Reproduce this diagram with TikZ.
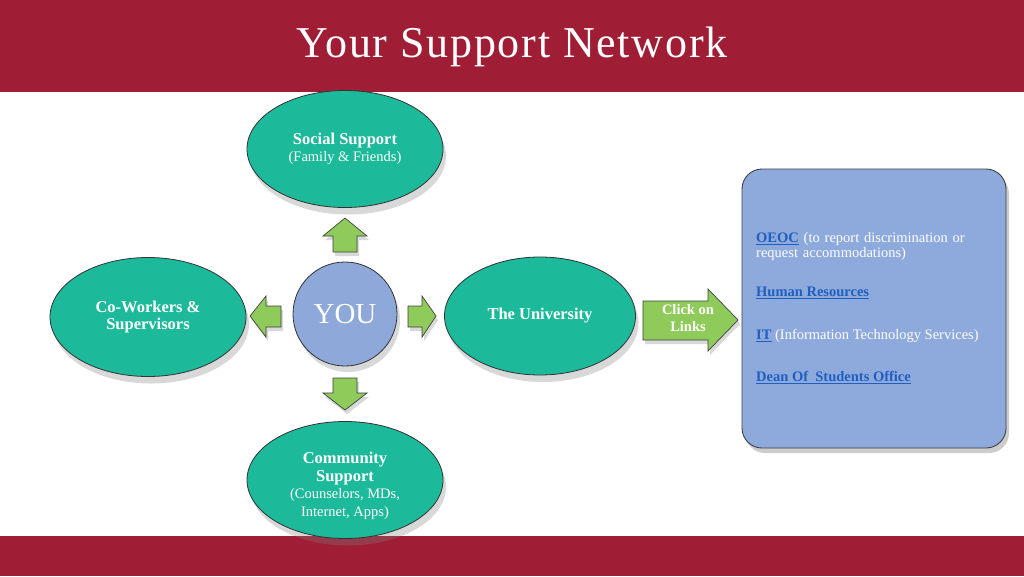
\documentclass[tikz,border=0pt]{standalone}
\usepackage{fontspec}
\setmainfont{Liberation Serif}
\usetikzlibrary{shapes.geometric,shadows}
\definecolor{crimson}{HTML}{A01E35}
\definecolor{teal1}{HTML}{1CB99A}
\definecolor{youblue}{HTML}{8EA8DA}
\definecolor{boxblue}{HTML}{8EA9DB}
\definecolor{agreen}{HTML}{8FCB5B}
\definecolor{linkblue}{HTML}{1F5FC0}
\tikzset{
  oval/.style={ellipse, draw=black!80, line width=0.8pt, fill=teal1, text=white,
    align=center, inner sep=0pt, font=\fontsize{16.5}{17.5}\selectfont\bfseries,
    drop shadow={shadow xshift=3pt, shadow yshift=-7pt, opacity=0.3}},
  garrow/.style={draw=black!75, line width=0.7pt, fill=agreen, line join=miter,
    drop shadow={shadow xshift=2pt, shadow yshift=-4pt, opacity=0.3}},
}
\newcommand{\lk}[1]{\textcolor{linkblue}{\bfseries\underline{#1}}}
\newcommand{\smr}{\fontsize{14.5}{15}\selectfont\mdseries}
\begin{document}
\begin{tikzpicture}[x=1pt,y=-1pt]
\useasboundingbox (0,0) rectangle (1024,576);
\fill[white] (0,0) rectangle (1024,576);
% bands
\fill[crimson] (0,0) rectangle (1024,92);
\fill[crimson] (0,536) rectangle (1024,576);
\node[text=white, font=\fontsize{44}{48}\selectfont\addfontfeature{LetterSpace=4}] (title) at (512,47) {Your Support Network};

% ellipses
\node[oval, minimum width=196pt, minimum height=117pt] (social) at (345,149)
  {Social Support\\ \smr (Family \& Friends)};
\node[oval, minimum width=196pt, minimum height=119pt] (cow) at (148,317)
  {Co-Workers \&\\ Supervisors};
\node[oval, minimum width=191pt, minimum height=118pt] (univ) at (540,316)
  {The University};
\node[oval, minimum width=196pt, minimum height=117pt] (comm) at (345,480)
  {\rule{0pt}{23pt}Community\\ Support\\ \smr (Counselors, MDs,\\ \smr Internet, Apps)};

% YOU
\node[circle, draw=black!80, line width=0.8pt, fill=youblue, minimum size=104pt, inner sep=0pt,
  text=white, font=\fontsize{29}{31}\selectfont,
  drop shadow={shadow xshift=3pt, shadow yshift=-6pt, opacity=0.3}] (you) at (345,314) {YOU};

% green arrows
\path[garrow] (345,218) -- (367,236) -- (357,236) -- (357,252) -- (333,252) -- (333,236) -- (323,236) -- cycle;
\path[garrow] (345,410) -- (367,393) -- (357,393) -- (357,378) -- (333,378) -- (333,393) -- (323,393) -- cycle;
\path[garrow] (250,316) -- (266,296) -- (266,306) -- (281,306) -- (281,327) -- (266,327) -- (266,337) -- cycle;
\path[garrow] (436,316) -- (422,296) -- (422,306) -- (408,306) -- (408,327) -- (422,327) -- (422,337) -- cycle;
\path[garrow] (738,320) -- (708,289) -- (708,301) -- (643,301) -- (643,340) -- (708,340) -- (708,351) -- cycle;
\node[text=white, font=\fontsize{14.5}{16.5}\selectfont\bfseries, align=center] (click) at (688,318) {Click on\\Links};

% blue box
\node[draw=black!75, line width=0.9pt, fill=boxblue, rounded corners=20pt,
  minimum width=264pt, minimum height=279pt, inner sep=0pt,
  drop shadow={shadow xshift=3pt, shadow yshift=-5pt, opacity=0.4}] (box) at (874,308.5) {};

\node[anchor=north west, text=white, font=\fontsize{14.5}{15.5}\selectfont, align=left,
  text width=250pt, inner sep=0pt] (oeoc) at (756,232)
  {\lk{OEOC} (to report discrimination or\\ request accommodations)};
\node[anchor=north west, inner sep=0pt, font=\fontsize{14.5}{15.5}\selectfont] (hr) at (756,287) {\lk{Human Resources}};
\node[anchor=north west, inner sep=0pt, text=white, font=\fontsize{14.5}{15.5}\selectfont] (it) at (756,329)
  {\lk{IT} (Information Technology Services)};
\node[anchor=north west, inner sep=0pt, font=\fontsize{14.5}{15.5}\selectfont] (dean) at (756,371) {\lk{Dean Of\ \ Students Office}};
\end{tikzpicture}
\end{document}
